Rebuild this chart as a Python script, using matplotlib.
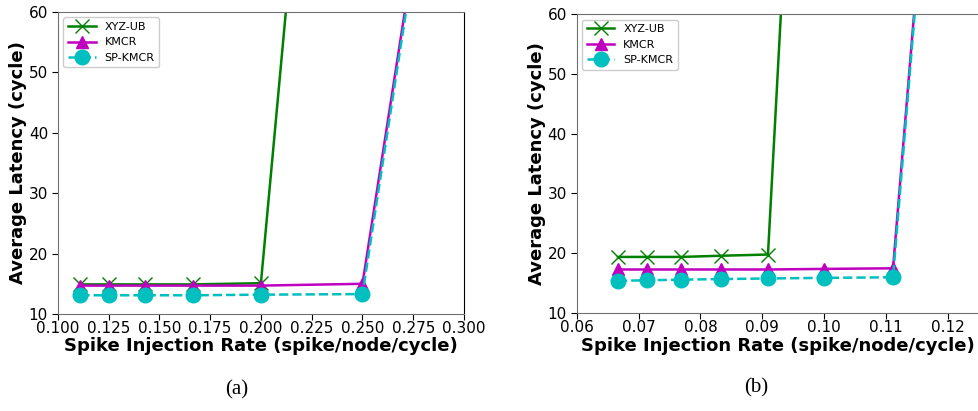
import matplotlib
matplotlib.use('Agg')
import matplotlib.pyplot as plt

# (a) injection rates and latencies
rate_a = [1/9, 1/8, 1/7, 1/6, 1/5, 1/4, 1/3]
xyz_a = [14.9, 14.9, 14.9, 14.9, 15.1, 198]
kmcr_a = [14.7, 14.7, 14.7, 14.7, 14.7, 15.0, 195]
sp_a = [13.1, 13.1, 13.1, 13.1, 13.2, 13.3, 195]

# (b)
rate_b = [1/15, 1/14, 1/13, 1/12, 1/11, 1/10, 1/9, 1/8]
xyz_b = [19.4, 19.4, 19.4, 19.6, 19.8, 195]
kmcr_b = [17.3, 17.3, 17.3, 17.3, 17.3, 17.4, 17.5, 191]
sp_b = [15.4, 15.5, 15.6, 15.7, 15.8, 15.9, 16.0, 191]

fig = plt.figure(figsize=(9.79, 4.11), dpi=100)
ax1 = fig.add_axes([0.059, 0.236, 0.415, 0.735])
ax2 = fig.add_axes([0.589, 0.238, 0.411, 0.728])


def draw(ax, rate, xyz, kmcr, sp, xlim, xticks, fmt):
    ax.plot(rate[:len(xyz)], xyz, color='green', marker='x', markersize=10,
            linewidth=1.8, label='XYZ-UB')
    ax.plot(rate[:len(kmcr)], kmcr, color='m', marker='^', markersize=9,
            linewidth=1.8, label='KMCR')
    ax.plot(rate[:len(sp)], sp, color='c', marker='o', markersize=10.5,
            linewidth=1.8, linestyle='--', label='SP-KMCR')
    ax.set_xlim(*xlim)
    ax.set_ylim(10, 60)
    ax.set_xticks(xticks)
    ax.set_xticklabels([fmt.format(t) for t in xticks])
    ax.set_yticks([10, 20, 30, 40, 50, 60])
    ax.tick_params(labelsize=11, length=4)
    ax.tick_params(axis='x', pad=1)
    ax.tick_params(axis='y', pad=3)
    for s in ['left', 'bottom', 'top']:
        ax.spines[s].set_color('#707070')
    ax.spines['right'].set_color('black')
    ax.set_xlabel('Spike Injection Rate (spike/node/cycle)', fontsize=13,
                  fontweight='bold', labelpad=1)
    ax.set_ylabel('Average Latency (cycle)', fontsize=13, fontweight='bold',
                  labelpad=1)
    ax.legend(loc='upper left', fontsize=8, framealpha=1,
              borderpad=0.4, handlelength=2.5)


draw(ax1, rate_a, xyz_a, kmcr_a, sp_a, (0.1, 0.3),
     [0.1 + 0.025 * i for i in range(9)], '{:.3f}')
draw(ax2, rate_b, xyz_b, kmcr_b, sp_b, (0.06, 0.125),
     [0.06 + 0.01 * i for i in range(7)], '{:.2f}')

fig.text(0.242, 0.04, '(a)', fontsize=15, family='Liberation Serif',
         ha='center')
fig.text(0.772, 0.045, '(b)', fontsize=15, family='Liberation Serif',
         ha='center')

fig.savefig('out.png', dpi=100)
